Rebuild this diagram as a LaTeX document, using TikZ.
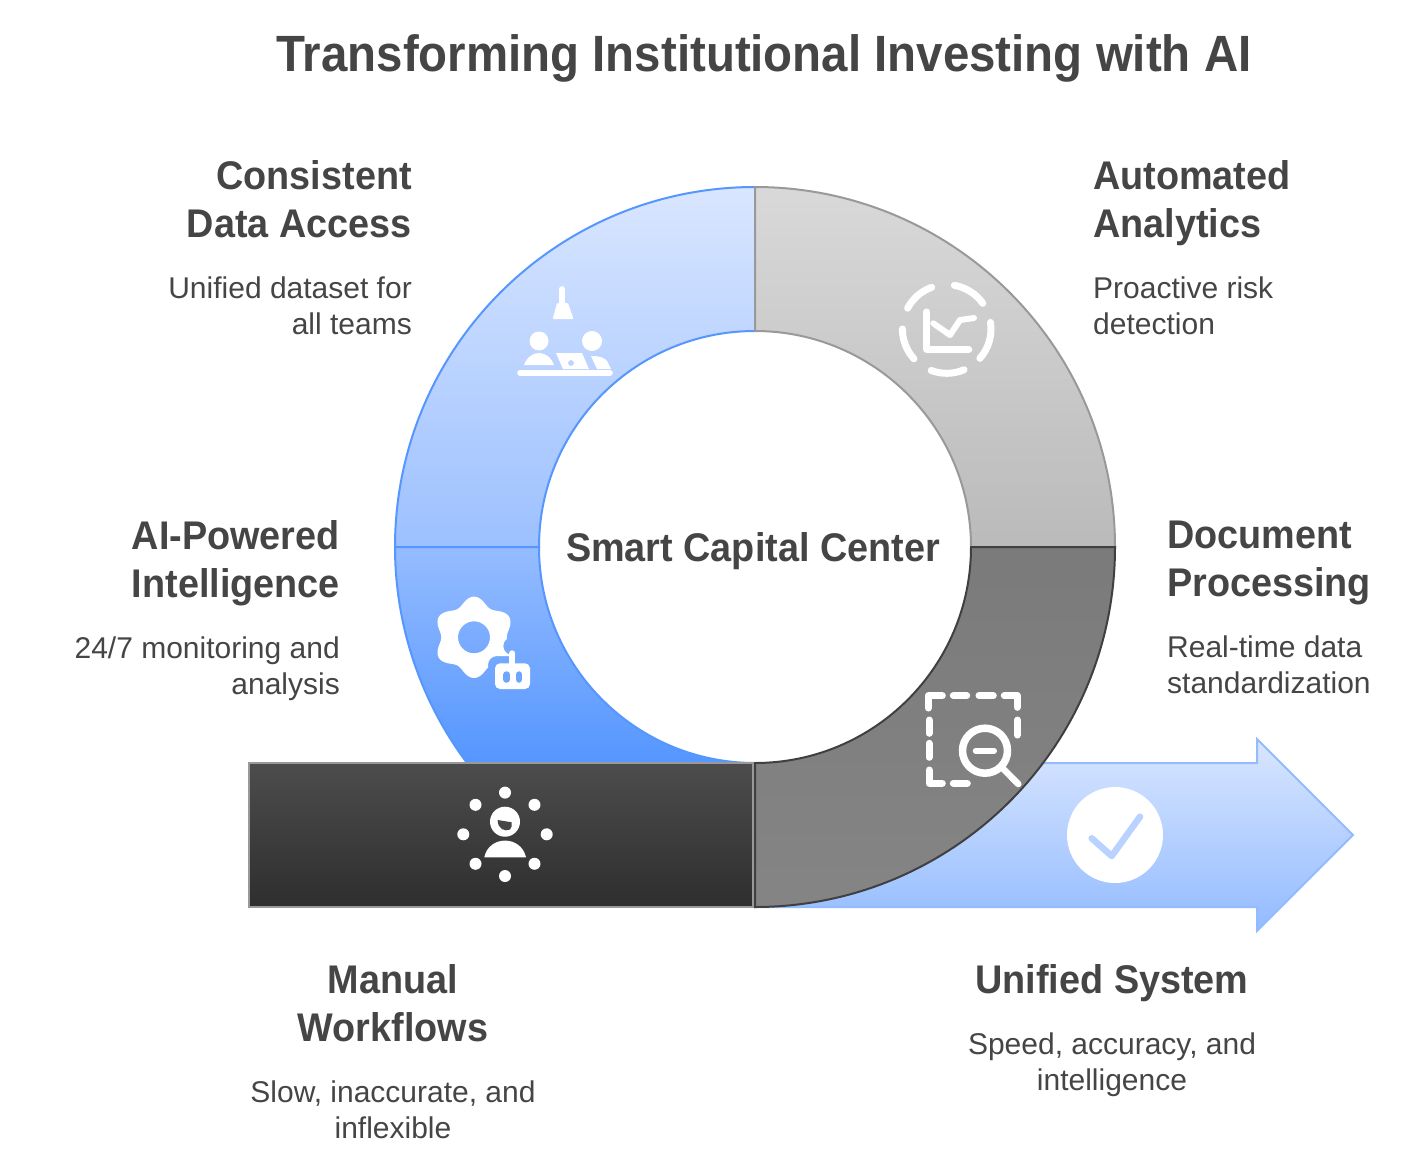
\documentclass[tikz,border=0pt]{standalone}
\usepackage{fontspec}
\setmainfont{Liberation Sans}
\newfontfamily\headfont[FakeStretch=0.945]{Liberation Sans}
\newfontfamily\titlefont[FakeStretch=0.93]{Liberation Sans}
\usetikzlibrary{positioning}

\definecolor{inkgray}{HTML}{454545}
\definecolor{blueline}{HTML}{5596FF}
\definecolor{bluetop}{HTML}{D9E6FF}
\definecolor{bluemid}{HTML}{9CC0FF}
\definecolor{arrowline}{HTML}{93BBFF}
\definecolor{roboteye}{HTML}{6FA5FF}
\definecolor{checkblue}{HTML}{B9D2FF}

\begin{document}
\begin{tikzpicture}[
  x=1pt,y=-1pt,
  head/.style={inkgray,inner sep=0pt,text depth=10pt,font=\headfont\fontsize{40}{48}\selectfont\bfseries},
  note/.style={inkgray,inner sep=0pt,font=\fontsize{30}{36}\selectfont},
  leftpart/.style={head,align=right},
  rightpart/.style={head,align=left},
  midpart/.style={head,align=center},
  iconline/.style={draw=white,line width=#1,line cap=round,line join=round},
  iconfill/.style={fill=white,draw=none}
]
  \useasboundingbox (0,0) rectangle (1424,1159);

  % arrow behind the ring
  \draw[draw=arrowline,line width=2pt,line join=miter,top color=bluetop,bottom color=arrowline]
    (755,763) -- (1257,763) -- (1257,739) -- (1353,835) -- (1257,931) -- (1257,907) -- (755,907) -- cycle;

  % blue half of the ring
  \draw[draw=blueline,line width=2pt,top color=bluetop,bottom color=bluemid]
    (395,547) arc[start angle=180,end angle=270,radius=360] -- (755,331)
    arc[start angle=270,end angle=180,radius=216] -- cycle;
  \draw[draw=blueline,line width=2pt,top color=bluemid!90!blueline,bottom color=blueline]
    (395,547) arc[start angle=180,end angle=143.13,radius=360] -- (755,763)
    arc[start angle=90,end angle=180,radius=216] -- cycle;

  % gray half of the ring
  \draw[draw=black!40,line width=2pt,top color=black!15,bottom color=black!27]
    (755,187) arc[start angle=270,end angle=360,radius=360] -- (971,547)
    arc[start angle=0,end angle=-90,radius=216] -- cycle;
  \draw[draw=black!40,line width=2.5pt,top color=black!70,bottom color=black!82] (249,763) rectangle (753,907);
  \draw[draw=black!75,line width=2pt,top color=black!52,bottom color=black!48]
    (1115,547) arc[start angle=0,end angle=90,radius=360] -- (755,763)
    arc[start angle=90,end angle=0,radius=216] -- cycle;

  % consistent data access icon
  \draw[iconline=5.7] (562,289) -- (562,303);
  \draw[iconfill,rounded corners=1pt] (557,303) -- (568,303) -- (573.5,319) -- (552.7,319) -- cycle;
  \fill[white] (539,341) circle[radius=9.5] (592,341) circle[radius=10];
  \fill[white] (524,365) .. controls (530,349) and (548,349) .. (554,365) -- cycle;
  \fill[white,even odd rule] (556,353) -- (582,353) -- (589,369) -- (563,369) -- cycle (571,363) circle[radius=3];
  \fill[white] (591,356) .. controls (600,356) and (605,358) .. (607,361) -- (611,369) -- (597,369) -- cycle;
  \draw[iconline=5.7] (520,373) -- (610,373);

  % automated analytics icon
  \foreach \from/\to in {208/250,280/324.5,351.5/401.5,67/110.6,137.7/180}
    \draw[iconline=7] (946.7,329)++(\from:44.3) arc[start angle=\from,end angle=\to,radius=44.3];
  \draw[iconline=6.5] (926.7,311.7) -- (926.7,349.3) -- (969,349.3);
  \draw[iconline=6] (933.3,323.3) -- (950,335) -- (960,320) -- (974,318);

  % ai powered intelligence icon
  \begin{scope}[even odd rule]
    \clip (400,580) rectangle (560,720) (474,637.3) circle[radius=16];
    \clip (400,580) rectangle (560,720) (512.3,646) circle[radius=9];
    \begin{scope}[rounded corners=9pt]
      \clip (400,580) rectangle (560,720) (488,656) rectangle (537,696);
      \fill[white,shift={(474,637.3)},sharp corners] plot[domain=0:360,samples=121,smooth cycle] (\x:{36.7+4*cos(6*\x-180)});
    \end{scope}
  \end{scope}
  \draw[iconline=6] (512.3,653.3) -- (512.3,665);
  \fill[white,rounded corners=5pt] (495,663.3) rectangle (530,689);
  \draw[roboteye,line width=6.5pt,line cap=round] (506.7,674.5) -- (506.7,679.5) (519,674.5) -- (519,679.5);

  % document processing icon
  \draw[iconline=7] (928.3,708) -- (928.3,695.7) -- (942.3,695.7);
  \draw[iconline=7] (953.3,695.7) -- (966.7,695.7) (979,695.7) -- (993.3,695.7);
  \draw[iconline=7] (1004.3,695.7) -- (1017.3,695.7) -- (1017.3,707.3);
  \draw[iconline=7] (1017.3,720) -- (1017.3,735);
  \draw[iconline=7] (929,720) -- (929,733.3) (929,743.3) -- (929,757.3);
  \draw[iconline=7] (929,770) -- (929,783.3) -- (942.3,783.3) (953.3,783.3) -- (967.3,783.3);
  \draw[iconline=7.5] (985,750.7) circle[radius=22.5];
  \draw[iconline=6.5] (1001.7,767.3) -- (1018.3,784);
  \draw[iconline=6] (975.7,750.7) -- (994,750.7);

  % manual workflows icon
  \foreach \dot in {0,45,...,315}
    \fill[white] (505,834.3)++(\dot:41.7) circle[radius=6];
  \fill[white] (505,821.7) circle[radius=15];
  \fill[black!72] (497.7,820) .. controls (497.5,829) and (505,832) .. (510,829.5) .. controls (512,828) and (512,825) .. (511.7,822.3) -- cycle;
  \fill[white] (484.3,857.3) .. controls (489,835) and (521,835) .. (526,857.3) -- cycle;

  % unified system icon
  \fill[white] (1115,835) circle[radius=48];
  \draw[checkblue,line width=6.5pt,line cap=round,line join=round] (1091.7,838.3) -- (1111.7,856) -- (1140,816.7);

  % texts
  \node[inkgray,inner sep=0pt,font=\titlefont\fontsize{51}{58}\selectfont\bfseries] (title) at (764,58) {Transforming Institutional Investing with AI};
  \node[head,text depth=0pt] (center) at (753,547) {Smart Capital Center};

  \node[leftpart,anchor=north east] (consistent) at (412,160) {Consistent\\Data Access};
  \node[note,align=right,below=29pt of consistent.south east,anchor=north east] (consistentnote) {Unified dataset for\\all teams};

  \node[rightpart,anchor=north west] (automated) at (1093,160) {Automated\\Analytics};
  \node[note,align=left,below=29pt of automated.south west,anchor=north west] (automatednote) {Proactive risk\\detection};

  \node[leftpart,anchor=north east] (aipowered) at (340,520) {AI-Powered\\Intelligence};
  \node[note,align=right,below=29pt of aipowered.south east,anchor=north east] (aipowerednote) {24/7 monitoring and\\analysis};

  \node[rightpart,anchor=north west] (document) at (1167,521) {Document\\Processing};
  \node[note,align=left,below=29pt of document.south west,anchor=north west] (documentnote) {Real-time data\\standardization};

  \node[midpart,anchor=north] (manual) at (393,964) {Manual\\Workflows};
  \node[note,align=center,below=29pt of manual.south,anchor=north] (manualnote) {Slow, inaccurate, and\\inflexible};

  \node[midpart,anchor=north] (unified) at (1112,964) {Unified System};
  \node[note,align=center,below=29pt of unified.south,anchor=north] (unifiednote) {Speed, accuracy, and\\intelligence};
\end{tikzpicture}
\end{document}
